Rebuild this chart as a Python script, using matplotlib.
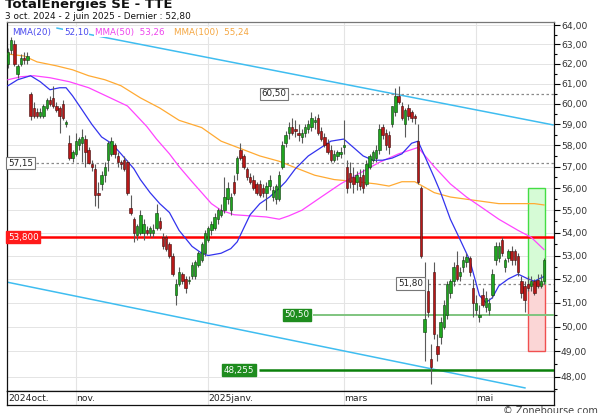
import numpy as np
import matplotlib.pyplot as plt
from matplotlib.patches import Rectangle
from matplotlib.ticker import FixedLocator, FuncFormatter, NullFormatter

# daily candles, 3 oct. 2024 -> 2 juin 2025 (index = trading day)
opens = [62.0, 62.7, 63.0, 61.5, 62.0, 62.3, 62.2, 60.5, 59.8, 59.6,
         59.4, 59.4, 59.8, 60.2, 60.3, 59.9, 59.8, 60.0, 59.0, 58.1,
         57.4, 57.6, 58.0, 58.1, 58.3, 57.8, 57.1, 56.9, 55.8, 56.2,
         56.6, 57.3, 57.6, 58.0, 57.5, 57.2, 57.3, 57.2, 55.1, 54.6,
         53.9, 54.0, 54.0, 54.1, 54.0, 54.0, 54.2, 54.5, 53.8, 53.8,
         53.5, 53.0, 51.3, 51.8, 52.2, 52.0, 51.9, 52.1, 52.1, 52.6,
         52.8, 53.1, 53.7, 54.1, 54.2, 54.6, 54.8, 55.0, 55.5, 55.0,
         56.3, 56.7, 57.8, 57.5, 56.9, 56.5, 56.4, 56.2, 56.2, 56.0,
         55.8, 56.1, 55.6, 55.5, 55.5, 57.0, 58.1, 58.6, 58.9, 58.8,
         58.6, 58.4, 58.6, 58.8, 58.9, 59.1, 59.3, 58.7, 58.4, 58.1,
         57.8, 57.3, 57.5, 57.6, 57.9, 57.0, 56.7, 56.5, 56.3, 56.5,
         56.6, 56.2, 57.0, 57.3, 57.4, 57.8, 58.9, 58.6, 58.5, 59.0,
         59.6, 60.4, 59.9, 59.0, 59.8, 59.6, 59.4, 58.2, 56.0, 49.8,
         51.5, 48.7, 52.3, 49.2, 49.6, 50.0, 50.5, 51.4, 51.9, 52.6,
         52.1, 52.5, 52.7, 52.9, 51.6, 50.7, 50.4, 51.3, 50.8, 50.7,
         51.3, 52.8, 52.9, 53.7, 52.5, 52.9, 53.2, 53.2, 53.0, 51.9,
         51.7, 51.8, 51.7, 51.9, 51.95, 51.7, 51.9]
highs = [62.8, 63.4, 63.2, 62.0, 62.5, 62.6, 62.6, 60.6, 60.1, 59.8,
         59.8, 60.0, 60.3, 60.4, 60.9, 60.1, 59.9, 60.2, 59.2, 58.5,
         57.8, 58.6, 58.4, 58.8, 58.5, 57.9, 57.3, 57.1, 56.3, 56.8,
         57.2, 58.2, 58.4, 58.1, 57.7, 57.3, 57.5, 57.3, 55.7, 54.7,
         54.4, 55.0, 54.6, 54.3, 54.3, 54.4, 55.3, 54.7, 54.0, 53.9,
         53.6, 53.1, 52.0, 52.5, 52.3, 52.1, 52.1, 52.7, 52.8, 53.2,
         53.6, 54.1, 54.3, 54.5, 54.9, 55.1, 55.3, 56.5, 56.3, 55.8,
         56.6, 57.5, 58.1, 57.6, 57.0, 56.7, 56.6, 56.3, 56.4, 56.2,
         56.3, 56.6, 56.1, 56.2, 56.8, 58.2, 58.7, 59.1, 59.3, 59.2,
         59.0, 58.8, 59.0, 59.2, 59.6, 59.4, 59.5, 58.9, 58.6, 58.3,
         58.0, 57.8, 57.8, 57.9, 59.2, 57.3, 57.2, 57.0, 56.8, 56.9,
         56.9, 57.3, 57.6, 57.8, 58.0, 59.0, 59.0, 58.8, 58.7, 59.9,
         60.8, 60.9, 60.1, 59.8, 60.0, 59.7, 59.5, 59.0, 56.1, 52.7,
         52.0, 49.3, 52.7, 49.7, 50.4, 51.1, 51.9, 52.0, 52.7, 53.2,
         52.5, 53.0, 53.1, 53.0, 52.0, 51.3, 50.9, 51.6, 51.5, 51.2,
         52.4, 53.6, 53.6, 53.8, 52.9, 53.3, 53.4, 53.3, 53.1, 52.1,
         51.9, 52.1, 52.1, 52.0, 52.2, 52.2, 52.9]
lows = [61.8, 62.5, 61.9, 61.3, 61.9, 62.0, 62.0, 59.2, 59.3, 59.3,
        59.3, 59.3, 59.7, 59.9, 59.8, 59.6, 58.6, 59.2, 58.9, 57.3,
        57.2, 57.5, 57.8, 57.2, 57.0, 57.1, 56.8, 55.2, 55.1, 55.9,
        56.3, 56.8, 57.5, 57.4, 57.0, 56.9, 56.8, 55.7, 54.8, 53.6,
        53.7, 53.9, 53.7, 53.9, 53.8, 53.8, 54.1, 54.1, 53.3, 53.2,
        52.9, 52.1, 50.9, 51.7, 51.8, 51.4, 51.8, 52.0, 52.0, 52.5,
        52.7, 53.0, 53.6, 53.9, 54.1, 54.4, 54.7, 54.9, 55.3, 54.8,
        55.7, 56.4, 57.3, 56.9, 56.4, 56.2, 55.9, 55.7, 55.6, 55.6,
        55.0, 55.9, 55.4, 55.3, 55.4, 56.9, 57.9, 58.3, 58.5, 58.4,
        58.2, 58.1, 58.4, 58.6, 58.7, 58.8, 58.5, 58.2, 57.9, 57.6,
        57.2, 57.2, 57.3, 57.4, 57.6, 55.8, 56.0, 55.8, 55.9, 55.9,
        55.8, 56.1, 56.9, 57.2, 57.2, 57.6, 58.3, 57.8, 57.6, 58.9,
        59.4, 60.0, 59.2, 58.4, 59.2, 59.1, 59.0, 56.2, 52.9, 48.6,
        50.4, 47.7, 49.5, 48.6, 49.3, 49.9, 50.3, 51.2, 51.7, 51.9,
        51.9, 52.3, 52.5, 52.1, 50.4, 50.5, 50.2, 50.8, 50.6, 50.5,
        51.2, 52.6, 52.7, 53.0, 52.3, 52.7, 52.6, 52.6, 52.1, 51.2,
        50.6, 51.5, 51.5, 51.3, 51.6, 51.6, 51.8]
closes = [62.6, 63.2, 62.0, 61.9, 62.3, 62.2, 62.4, 59.4, 59.4, 59.4,
          59.6, 59.9, 60.2, 60.0, 59.9, 59.7, 59.4, 59.3, 59.1, 57.4,
          57.7, 58.2, 58.3, 58.4, 57.7, 57.15, 57.0, 55.7, 55.7, 56.6,
          57.0, 58.1, 58.2, 57.6, 57.2, 57.1, 56.9, 55.8, 54.9, 54.0,
          54.3, 54.8, 54.4, 54.0, 54.2, 54.1, 54.9, 54.2, 53.4, 53.3,
          53.0, 52.2, 51.8, 52.3, 51.9, 51.6, 51.95, 52.6, 52.7, 53.1,
          53.5, 54.0, 54.2, 54.4, 54.7, 55.0, 55.0, 55.6, 56.0, 55.6,
          55.8, 57.4, 57.4, 57.0, 56.5, 56.3, 56.0, 55.8, 55.7, 55.8,
          56.1, 56.4, 55.9, 56.1, 56.6, 58.0, 58.5, 58.9, 58.6, 58.7,
          58.5, 58.6, 58.9, 59.0, 59.3, 59.2, 58.6, 58.3, 58.0, 57.7,
          57.3, 57.6, 57.7, 57.7, 58.0, 56.0, 56.3, 56.2, 56.6, 56.1,
          56.0, 57.1, 57.5, 57.7, 57.8, 58.8, 58.5, 58.0, 57.9, 59.9,
          60.4, 60.1, 59.3, 59.7, 59.4, 59.3, 59.3, 56.3, 53.0, 50.3,
          50.6, 48.4, 49.7, 48.9, 50.2, 50.9, 51.8, 51.9, 52.5, 52.0,
          52.3, 52.8, 52.95, 52.3, 51.0, 51.0, 50.5, 50.9, 51.2, 51.0,
          52.2, 53.4, 53.4, 53.1, 52.8, 53.2, 52.8, 52.8, 52.3, 51.4,
          51.1, 51.6, 51.9, 51.4, 51.7, 51.9, 52.8]

# moving averages (index, value)
mma20_idx = [0, 3, 7, 10, 13, 16, 18, 20, 23, 26, 29, 32, 35, 39, 41, 44, 47, 50,
             53, 57, 60, 62, 66, 69, 71, 73, 75, 78, 81, 84, 86, 89, 93, 97, 100,
             104, 107, 110, 113, 116, 119, 122, 125, 127, 132, 134, 137, 140, 143,
             145, 146, 148, 150, 152, 155, 158, 161, 163, 166]
mma20_val = [60.9, 61.2, 61.4, 61.1, 60.7, 60.8, 60.8, 60.4, 59.7, 59.0, 58.4, 58.1,
             57.6, 56.9, 56.4, 55.8, 55.3, 54.9, 54.1, 53.4, 53.1, 53.0, 53.1, 53.3,
             53.6, 54.2, 54.8, 55.3, 55.6, 56.0, 56.3, 56.9, 57.5, 57.9, 58.2, 58.3,
             57.9, 57.5, 57.3, 57.3, 57.4, 57.6, 58.1, 58.2, 56.5, 55.8, 54.6, 53.7,
             52.8, 51.8, 51.3, 51.0, 51.2, 51.7, 52.0, 52.2, 52.0, 51.9, 52.1]
mma50_idx = [0, 4, 8, 13, 19, 25, 29, 33, 37, 40, 43, 46, 50, 53, 57, 60, 63, 66,
             70, 75, 80, 84, 87, 91, 97, 103, 109, 115, 121, 127, 132, 137, 142,
             147, 152, 158, 162, 166]
mma50_val = [61.2, 61.35, 61.4, 61.3, 61.1, 60.8, 60.5, 60.2, 59.9, 59.4, 58.9,
             58.3, 57.6, 57.0, 56.3, 55.8, 55.3, 55.0, 54.8, 54.75, 54.7, 54.6,
             54.75, 55.0, 55.6, 56.2, 56.7, 57.2, 57.6, 57.9, 57.0, 56.2, 55.6,
             55.1, 54.6, 54.1, 53.8, 53.26]
mma100_idx = [0, 5, 9, 15, 20, 25, 30, 35, 41, 47, 53, 60, 66, 72, 78, 84, 89, 95,
              101, 108, 114, 118, 122, 126, 132, 137, 142, 147, 152, 157, 163, 166]
mma100_val = [62.5, 62.4, 62.1, 61.9, 61.7, 61.4, 61.2, 60.9, 60.3, 59.8, 59.2,
              58.85, 58.2, 57.85, 57.5, 57.25, 56.95, 56.6, 56.4, 56.3, 56.2, 56.1,
              56.3, 56.3, 55.8, 55.6, 55.5, 55.4, 55.3, 55.3, 55.3, 55.24]

# trend channel (index, price)
chan_top_x = [15.2, 168.8]
chan_top_y = [63.84, 58.98]
chan_bot_x = [-0.3, 160.1]
chan_bot_y = [51.86, 47.56]

# levels
resist = 53.80
supports = [50.50, 48.255]
marks = [60.50, 57.15, 51.80]
box_x = [160.9, 166.3]
box_up = [51.80, 56.00]
box_down = [49.00, 51.80]

month_idx = [0, 21, 62, 104, 145]
month_lab = ['2024oct.', 'nov.', '2025janv.', 'mars', 'mai']
yticks = list(range(48, 65))


def fr(v):
    return f"{v:.2f}".replace('.', ',')


fig = plt.figure(figsize=(6, 4.13), dpi=100)
fig.patch.set_facecolor('white')
W, H = 600, 413
ax = fig.add_axes([7 / W, 1 - 391 / H, 547 / W, 369 / H])
ax.set_yscale('log')
ax.set_xlim(-0.3, 169.1)
ax.set_ylim(47.44, 64.16)

# grid
for v in yticks:
    ax.axhline(v, color='#e4e4e4', lw=0.7, zorder=0)
for m in month_idx[1:]:
    ax.axvline(m, color='#e4e4e4', lw=0.8, zorder=0)

# channel
ax.plot(chan_top_x, chan_top_y, color='#3fbdf0', lw=1.1, zorder=2)
ax.plot(chan_bot_x, chan_bot_y, color='#3fbdf0', lw=1.1, zorder=2)

# proba boxes
ax.add_patch(Rectangle((box_x[0], box_up[0]), box_x[1] - box_x[0], box_up[1] - box_up[0],
                       fc='#d6fbd6', ec='#44dd44', lw=1, zorder=1))
ax.add_patch(Rectangle((box_x[0], box_down[0]), box_x[1] - box_x[0], box_down[1] - box_down[0],
                       fc='#fbd6d6', ec='#f05050', lw=1, zorder=1))

# levels
ax.axhline(resist, color='#ff0000', lw=1.8, zorder=3)
ax.text(0.0, resist, '53,800', color='white', fontsize=6.3,
        va='center', ha='left', zorder=6,
        bbox=dict(boxstyle='square,pad=0.18', fc='#ff1a1a', ec='#ff1a1a'))
ax.hlines(supports[0], 94.6, 169.1, color='#7fc47f', lw=1.4, zorder=3)
ax.text(85.6, supports[0], fr(supports[0]), color='white', fontsize=6.3,
        va='center', ha='left', zorder=6,
        bbox=dict(boxstyle='square,pad=0.18', fc='#1e8c1e', ec='#1e8c1e'))
ax.hlines(supports[1], 77.6, 169.1, color='#0a800a', lw=1.8, zorder=3)
ax.text(66.8, supports[1], '48,255', color='white', fontsize=6.3,
        va='center', ha='left', zorder=6,
        bbox=dict(boxstyle='square,pad=0.18', fc='#1e8c1e', ec='#1e8c1e'))
mark_x = [78.6, 0.0, 120.8]
mark_end = [87.7, 8.6, 130.0]
for v, x0, x1 in zip(marks, mark_x, mark_end):
    ax.hlines(v, x1, 169.1, color='#8a8a8a', lw=0.9, linestyles=(0, (2, 2)), zorder=3)
    ax.text(x0, v, fr(v), color='#222222', fontsize=6.3, va='center', ha='left', zorder=6,
            bbox=dict(boxstyle='square,pad=0.18', fc='white', ec='#777777', lw=0.8))

# moving averages
ax.plot(mma100_idx, mma100_val, color='#ffaa33', lw=0.9, zorder=4)
ax.plot(mma50_idx, mma50_val, color='#ff44ff', lw=0.9, zorder=4)
ax.plot(mma20_idx, mma20_val, color='#3333ee', lw=0.9, zorder=4)

# candles
idx = np.arange(len(closes))
o = np.array(opens)
c = np.array(closes)
up = c >= o
ax.vlines(idx, lows, highs, color='#5a5a5a', lw=0.8, zorder=5)
bot = np.minimum(o, c)
hgt = np.maximum(np.abs(c - o), 0.06)
ax.bar(idx[up], hgt[up], bottom=bot[up], width=0.75, color='#1fa51f',
       edgecolor='#0c3d0c', lw=0.4, zorder=5)
ax.bar(idx[~up], hgt[~up], bottom=bot[~up], width=0.75, color='#b81818',
       edgecolor='#3d0c0c', lw=0.4, zorder=5)

# legend
lt = ax.transAxes
bb = dict(boxstyle='square,pad=0.05', fc='white', ec='none')
ax.text(0.010, 0.972, 'MMA(20)', color='#4a4aee', fontsize=6.3, va='center', transform=lt, zorder=6, bbox=bb)
ax.text(0.104, 0.972, '52,10', color='#4a4aee', fontsize=6.3, va='center', transform=lt, zorder=6, bbox=bb)
ax.text(0.160, 0.972, 'MMA(50)  53,26', color='#ee44ee', fontsize=6.3, va='center', transform=lt, zorder=6, bbox=bb)
ax.text(0.306, 0.972, 'MMA(100)  55,24', color='#f5a640', fontsize=6.3, va='center', transform=lt, zorder=6, bbox=bb)

# axes
ax.yaxis.tick_right()
ax.yaxis.set_major_locator(FixedLocator(yticks))
ax.yaxis.set_major_formatter(FuncFormatter(lambda v, p: fr(v)))
ax.yaxis.set_minor_locator(FixedLocator([v + 0.5 for v in range(47, 64)]))
ax.yaxis.set_minor_formatter(NullFormatter())
ax.tick_params(axis='y', which='major', length=4, width=0.8, pad=1, labelsize=6.6,
               labelcolor='#333333', direction='out')
ax.tick_params(axis='y', which='minor', length=2.5, width=0.8, direction='out')
ax.set_xticks([])
for s in ['left', 'right', 'bottom']:
    ax.spines[s].set_color('#111111')
    ax.spines[s].set_linewidth(0.9)
ax.spines['top'].set_color('#777777')
ax.spines['top'].set_linewidth(0.9)

# date strip
dx = fig.add_axes([7 / W, 1 - 405 / H, 547 / W, 14 / H])
dx.set_xlim(-0.3, 169.1)
dx.set_ylim(0, 1)
dx.set_xticks([])
dx.set_yticks([])
for m in month_idx[1:]:
    dx.axvline(m, color='#e4e4e4', lw=0.8)
for m, lab in zip(month_idx, month_lab):
    dx.text(m + 0.1, 0.45, lab, fontsize=6.6, color='#222222', va='center', ha='left')
for s in dx.spines.values():
    s.set_color('#111111')
    s.set_linewidth(0.9)

# titles
fig.text(5 / W, 1 - 8 / H, 'TotalEnergies SE - TTE', fontsize=9.5, fontweight='bold',
         color='#111111', va='baseline', ha='left')
fig.text(5 / W, 1 - 19 / H, '3 oct. 2024 - 2 juin 2025 - Dernier : 52,80', fontsize=6.4,
         color='#111111', va='baseline', ha='left')
fig.text(598 / W, 1 - 414 / H, '© Zonebourse.com', fontsize=7, color='#444444',
         va='baseline', ha='right')

fig.savefig('out.png', dpi=100)
